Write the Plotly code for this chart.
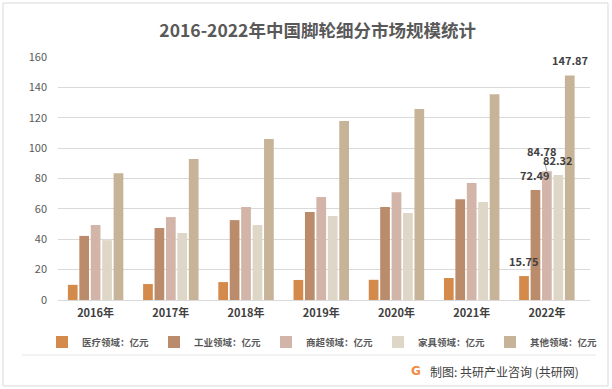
import plotly.graph_objects as go

years = ["2016年", "2017年", "2018年", "2019年", "2020年", "2021年", "2022年"]
medical = [10.0, 10.5, 11.8, 13.2, 13.3, 14.5, 15.75]
industrial = [42.2, 47.4, 52.6, 57.9, 61.2, 66.4, 72.49]
commercial = [49.4, 54.6, 61.2, 67.8, 71.0, 77.0, 84.78]
furniture = [39.4, 44.1, 49.4, 55.3, 57.3, 64.5, 82.32]
other = [83.5, 92.8, 106.0, 117.8, 125.7, 135.5, 147.87]

names = ["医疗领域：亿元", "工业领域：亿元", "商超领域：亿元", "家具领域：亿元", "其他领域：亿元"]
colors = ["#D48A4B", "#BB8C6B", "#D2B4A9", "#DED6C6", "#C7B398"]
series = [medical, industrial, commercial, furniture, other]

FONT = "Noto Sans CJK SC, Microsoft YaHei, sans-serif"
W, H = 612, 389
ML, MR, MT, MB = 58, 22, 57, 89
PW = W - ML - MR
PH = H - MT - MB
BARGAP = 0.24

fig = go.Figure()
for nm, col, vals in zip(names, colors, series):
    fig.add_trace(go.Bar(
        x=years, y=vals, name=nm, marker=dict(color=col, line=dict(width=0)),
        hoverinfo="x+y+name",
    ))

# data labels for the last year (drawn above all bars)
cat_w = PW / len(years)
slot = cat_w * (1 - BARGAP) / len(series)
lab_font = dict(family=FONT, size=11, color="#404040", weight="bold")
for i, vals in enumerate(series):
    v = vals[-1]
    dx = (i - (len(series) - 1) / 2) * slot
    if i == 2:
        fig.add_annotation(
            x=years[-1], y=v, xref="x", yref="y", xshift=dx,
            text=f"{v:.2f}", showarrow=True, arrowhead=0, arrowwidth=1,
            arrowcolor="#A6A6A6", ax=-5, ay=-20, standoff=0, font=lab_font,
        )
    else:
        fig.add_annotation(
            x=years[-1], y=v, xref="x", yref="y", xshift=dx, yshift=5,
            yanchor="bottom", text=f"{v:.2f}", showarrow=False, font=lab_font,
        )

# source line
fig.add_annotation(
    xref="paper", yref="paper", x=(428 - ML) / PW, y=(300 - 371) / PH,
    xanchor="left", yanchor="middle", showarrow=False,
    text="制图: 共研产业咨询 (共研网)",
    font=dict(family=FONT, size=12, color="#404040"),
)
fig.add_annotation(
    xref="paper", yref="paper", x=(416 - ML) / PW, y=(300 - 371) / PH,
    xanchor="center", yanchor="middle", showarrow=False,
    text="<b>G</b>",
    font=dict(family="DejaVu Sans", size=12, color="#F08C43"),
)

shapes = [
    dict(type="rect", xref="paper", yref="paper",
         x0=(3 - ML) / PW, x1=(608 - ML) / PW,
         y0=(300 - 386) / PH, y1=(300 - 3) / PH,
         line=dict(color="#D9D9D9", width=1), fillcolor="rgba(0,0,0,0)", layer="below"),
    dict(type="line", xref="paper", yref="paper",
         x0=(22 - ML) / PW, x1=(596 - ML) / PW,
         y0=(300 - 355) / PH, y1=(300 - 355) / PH,
         line=dict(color="#E6E6E6", width=1)),
]

fig.update_layout(
    width=W, height=H,
    margin=dict(l=ML, r=MR, t=MT, b=MB),
    paper_bgcolor="white", plot_bgcolor="white",
    barmode="group", bargap=BARGAP, bargroupgap=0.15,
    title=dict(text="2016-2022年中国脚轮细分市场规模统计", x=0.519, xref="container",
               xanchor="center", y=1 - 31 / H, yanchor="middle",
               font=dict(family=FONT, size=17.5, color="#595959", weight="bold")),
    font=dict(family=FONT, color="#595959"),
    xaxis=dict(showgrid=False, showline=False, zeroline=False, ticks="",
               ticklabelstandoff=5,
               tickfont=dict(family=FONT, size=11, color="#404040", weight="bold")),
    yaxis=dict(range=[0, 160], dtick=20, showgrid=True, gridcolor="#D9D9D9", gridwidth=1,
               zeroline=True, zerolinecolor="#D9D9D9", zerolinewidth=1,
               showline=False, ticks="", ticklabelstandoff=10,
               tickfont=dict(family=FONT, size=11, color="#595959")),
    legend=dict(orientation="h", x=(42 - ML) / PW, xanchor="left",
                y=(300 - 342) / PH, yanchor="middle",
                font=dict(family=FONT, size=9.5, color="#595959", weight="bold"),
                itemwidth=30, entrywidth=67, entrywidthmode="pixels",
                bgcolor="rgba(0,0,0,0)",
                tracegroupgap=0, traceorder="normal"),
    shapes=shapes,
    showlegend=True,
)

fig.write_html("out.html", config={"displayModeBar": False},
               post_script="document.body.style.margin='0';")
